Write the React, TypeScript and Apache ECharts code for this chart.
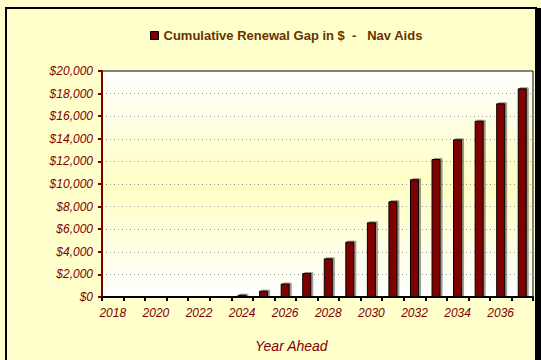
import React, { useEffect, useRef } from "react";
import * as echarts from "echarts";

const years = [
  "2018", "2019", "2020", "2021", "2022", "2023", "2024", "2025", "2026", "2027",
  "2028", "2029", "2030", "2031", "2032", "2033", "2034", "2035", "2036", "2037",
];
const gapValues = [
  0, 0, 0, 0, 0, 0, 200, 560, 1190, 2120,
  3420, 4900, 6610, 8470, 10420, 12210, 13950, 15600, 17140, 18470,
];
const seriesName = "Cumulative Renewal Gap in $  -   Nav Aids";
const xAxisTitle = "Year Ahead";

export default function App() {
  const ref = useRef<HTMLDivElement>(null);
  useEffect(() => {
    if (!ref.current) return;
    const chart = echarts.init(ref.current, null, { renderer: "svg" });
    const red = "#800000";
    chart.setOption({
      animation: false,
      backgroundColor: "#FFFFCC",
      legend: {
        top: 24,
        left: 145,
        itemWidth: 8,
        itemHeight: 8,
        data: [{ name: seriesName, icon: "rect", itemStyle: { color: red, borderColor: "#000", borderWidth: 1 } }],
        textStyle: {
          fontFamily: "Arial, Liberation Sans, sans-serif",
          fontWeight: "bold",
          fontSize: 13,
          color: "#663300",
        },
      },
      grid: {
        left: 102,
        top: 71,
        right: 8,
        bottom: 63,
        show: true,
        borderColor: "#000",
        borderWidth: 1,
        backgroundColor: new echarts.graphic.LinearGradient(0, 0, 0, 1, [
          { offset: 0, color: "#FFFFFF" },
          { offset: 0.5, color: "#FFFFC4" },
          { offset: 1, color: "#FFFFFF" },
        ]),
      },
      xAxis: {
        type: "category",
        data: years,
        boundaryGap: true,
        axisLine: { lineStyle: { color: "#000", width: 2 } },
        axisTick: { show: true, length: 4, alignWithLabel: false, interval: 0, lineStyle: { color: "#000", width: 2 } },
        axisLabel: {
          interval: 1,
          fontFamily: "Arial, Liberation Sans, sans-serif",
          fontStyle: "italic",
          fontSize: 12,
          color: red,
          margin: 10,
        },
        splitLine: { show: false },
      },
      yAxis: {
        type: "value",
        min: 0,
        max: 20000,
        interval: 2000,
        axisLine: { show: true, lineStyle: { color: red, width: 2 } },
        axisTick: { show: true, length: 4, lineStyle: { color: red, width: 2 } },
        axisLabel: {
          fontFamily: "Arial, Liberation Sans, sans-serif",
          fontStyle: "italic",
          fontSize: 12,
          color: red,
          margin: 9,
          formatter: (v: number) => "$" + v.toLocaleString("en-US"),
        },
        splitLine: { show: true, lineStyle: { color: "#999", type: [1, 3], width: 1 } },
      },
      graphic: [
        {
          type: "text",
          left: 292 - 37,
          top: 339,
          style: {
            text: xAxisTitle,
            fontFamily: "Arial, Liberation Sans, sans-serif",
            fontStyle: "italic",
            fontSize: 14,
            fill: red,
          },
        },
        {
          type: "rect",
          shape: { x: 6, y: 8, width: 530, height: 360 },
          style: { fill: "none", stroke: "#000", lineWidth: 2 },
          silent: true,
        },
        {
          type: "rect",
          shape: { x: 536, y: 8, width: 6, height: 360 },
          style: { fill: "#000" },
          silent: true,
        },
      ],
      series: [
        {
          name: seriesName,
          type: "bar",
          data: gapValues,
          barWidth: 9,
          itemStyle: {
            color: red,
            borderColor: "#000",
            borderWidth: 1,
            shadowColor: "rgba(0,0,0,0.4)",
            shadowOffsetX: 2,
            shadowOffsetY: -1,
            shadowBlur: 0,
          },
        },
      ],
    });
    return () => chart.dispose();
  }, []);
  return <div ref={ref} style={{ position: "absolute", left: 0, top: 0, width: 541, height: 360 }} />;
}
